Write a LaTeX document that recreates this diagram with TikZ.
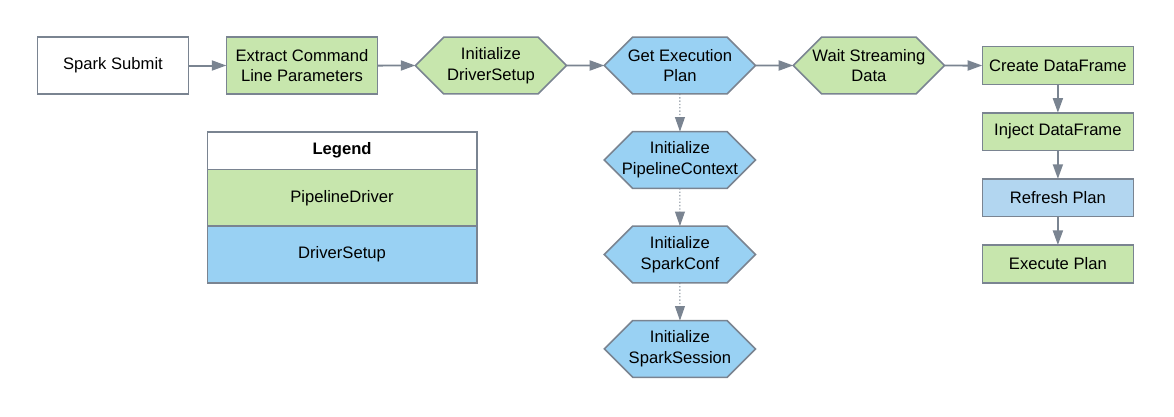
\documentclass[tikz,border=0pt]{standalone}
\usepackage{fontspec}
\setmainfont{Liberation Sans}
\usepackage{xcolor}
\usepackage{tikz}
\usetikzlibrary{positioning, arrows.meta, shapes.symbols}

\definecolor{lineGray}{HTML}{7A8491}
\definecolor{driverGreen}{HTML}{C7E6AD}
\definecolor{setupBlue}{HTML}{99D1F3}
\definecolor{planBlue}{HTML}{B2D6F0}

\begin{document}
\begin{tikzpicture}[
  font=\fontsize{12.5}{15.5}\selectfont,
  node distance=1cm and 1cm,
  box/.style={draw=lineGray, line width=1.2pt, minimum width=4cm,
    minimum height=1.5cm, align=center, inner sep=2pt, outer sep=0pt},
  sbox/.style={box, minimum height=1cm},
  hexa/.style={box, signal, signal to=west and east, signal pointer angle=90,
    inner xsep=-0.4cm},
  gbox/.style={box, fill=driverGreen},
  ghex/.style={hexa, fill=driverGreen},
  bhex/.style={hexa, fill=setupBlue},
  arrow/.style={-{Triangle[length=11pt, width=7.5pt]}, line width=1.5pt, lineGray},
  dotarrow/.style={arrow, line width=0.8pt, dash pattern=on 1pt off 1.5pt},
]
  \useasboundingbox (-2.990,1.733) rectangle (28.072,-9.300);

  % main flow
  \node[box] (spark) {Spark Submit};
  \node[gbox, right=of spark] (extract) {Extract Command\\Line Parameters};
  \node[ghex, right=of extract] (initds) {Initialize\\DriverSetup};
  \node[bhex, right=of initds] (getplan) {Get Execution\\Plan};
  \node[ghex, right=of getplan] (waitdata) {Wait Streaming\\Data};
  \node[sbox, fill=driverGreen, right=of waitdata] (createdf) {Create DataFrame};

  % setup steps
  \node[bhex, below=of getplan] (initctx) {Initialize\\PipelineContext};
  \node[bhex, below=of initctx] (initconf) {Initialize\\SparkConf};
  \node[bhex, below=of initconf] (initsess) {Initialize\\SparkSession};

  % streaming loop
  \node[sbox, fill=driverGreen, below=0.75cm of createdf] (injectdf) {Inject DataFrame};
  \node[sbox, fill=planBlue, below=0.75cm of injectdf] (refresh) {Refresh Plan};
  \node[sbox, fill=driverGreen, below=0.75cm of refresh] (execplan) {Execute Plan};

  % legend
  \node[sbox, minimum width=7.13cm, anchor=north west] (legend) at (2.495,-1.752) {\bfseries Legend};
  \node[box, fill=driverGreen, minimum width=7.13cm, below=0pt of legend] (legdriver) {PipelineDriver};
  \node[box, fill=setupBlue, minimum width=7.13cm, below=0pt of legdriver] (legsetup) {DriverSetup};

  \foreach \x/\y in {spark/extract, extract/initds, initds/getplan, getplan/waitdata,
    waitdata/createdf, createdf/injectdf, injectdf/refresh, refresh/execplan}
    \draw[arrow] (\x) -- (\y);
  \foreach \x/\y in {getplan/initctx, initctx/initconf, initconf/initsess}
    \draw[dotarrow] (\x) -- (\y);
\end{tikzpicture}
\end{document}
